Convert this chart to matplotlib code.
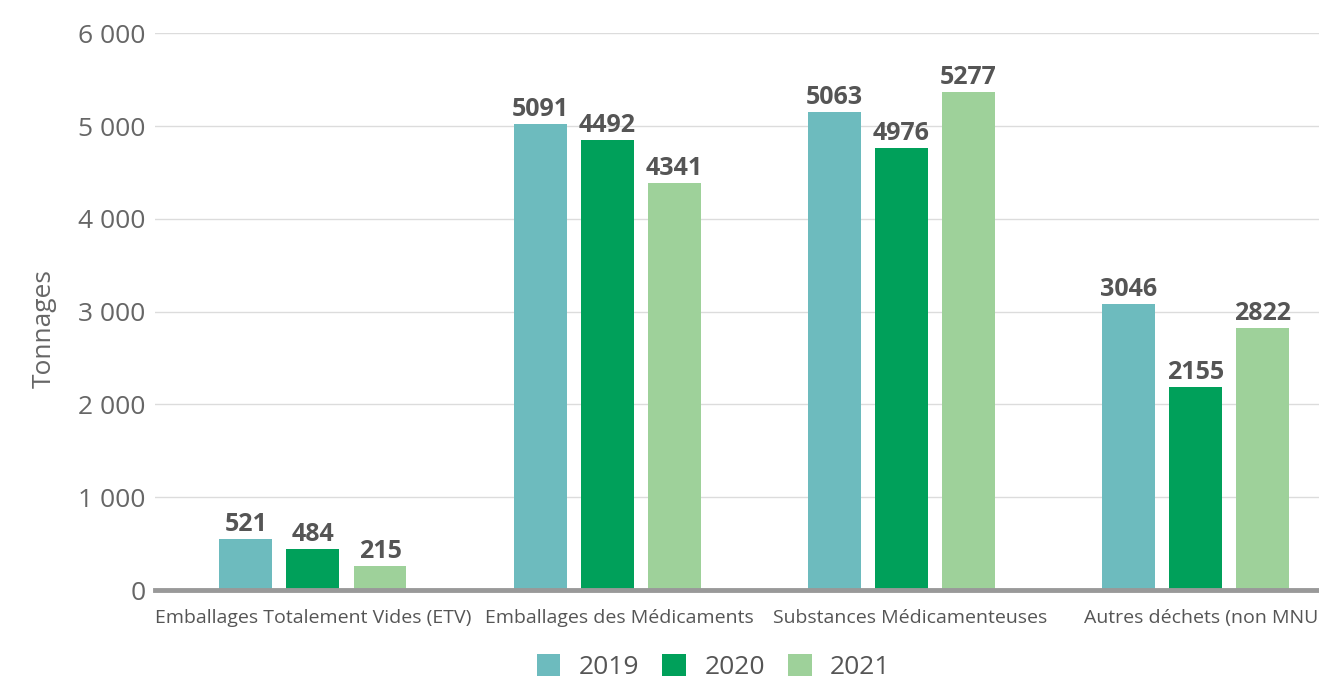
import numpy as np
import matplotlib.pyplot as plt
from matplotlib.patches import Patch

plt.rcParams["font.family"] = ["Open Sans", "DejaVu Sans"]

categories = [
    "Emballages Totalement Vides (ETV)",
    "Emballages des Médicaments",
    "Substances Médicamenteuses",
    "Autres déchets (non MNU)",
]
years = ["2019", "2020", "2021"]
# bar heights as drawn in the picture (they don't match the printed labels exactly)
heights_2019 = [548, 5020, 5150, 3086]
heights_2020 = [441, 4849, 4763, 2183]
heights_2021 = [258, 4387, 5366, 2828]
# printed value labels
labels_2019 = [521, 5091, 5063, 3046]
labels_2020 = [484, 4492, 4976, 2155]
labels_2021 = [215, 4341, 5277, 2822]
yticks = [0, 1000, 2000, 3000, 4000, 5000, 6000]
ytick_labels = ["0", "1 000", "2 000", "3 000", "4 000", "5 000", "6 000"]

colors = ["#6dbbbe", "#00a05a", "#9ed19a"]

fig = plt.figure(figsize=(13.19, 6.79), dpi=100)
ax = fig.add_axes([0.1175, 0.131, 0.8825, 0.82])

x = np.arange(len(categories))
width = 0.18
step = 0.228
series = [(heights_2019, labels_2019), (heights_2020, labels_2020), (heights_2021, labels_2021)]
for i, (h, lab) in enumerate(series):
    pos = x + (i - 1) * step
    bars = ax.bar(pos, h, width=width, color=colors[i], zorder=3)
    for b, v in zip(bars, lab):
        ax.annotate(
            f"{v}",
            xy=(b.get_x() + b.get_width() / 2, b.get_height()),
            xytext=(0, 1.5),
            textcoords="offset points",
            ha="center",
            va="bottom",
            fontsize=18,
            fontweight="bold",
            color="#555555",
        )

ax.set_xlim(-0.537, 3.42)
ax.set_ylim(0, 6000)
ax.set_yticks(yticks)
ax.set_yticklabels(ytick_labels, fontsize=19, color="#666666")
# labels sit a little right of the group centres in the original
# (the last one runs off the right edge there too)
ax.set_xticks(x + np.array([0, 0.04, 0.03, 0.03]))
ax.set_xticklabels(categories, fontsize=14, color="#555555")
ax.tick_params(axis="both", length=0)
ax.tick_params(axis="x", pad=14)
ax.tick_params(axis="y", pad=7)
ax.grid(axis="y", color="#dcdcdc", linewidth=1, zorder=0)
for s in ["top", "right", "left"]:
    ax.spines[s].set_visible(False)
ax.spines["bottom"].set_color("#999999")
ax.spines["bottom"].set_linewidth(3.5)
ax.spines["bottom"].set_zorder(4)

ax.set_ylabel("Tonnages", fontsize=19, color="#666666")
ax.yaxis.set_label_coords(-0.084, 0.469)

handles = [Patch(facecolor=c, label=y) for c, y in zip(colors, years)]
fig.legend(
    handles=handles,
    loc="center",
    bbox_to_anchor=(0.541, 0.017),
    ncol=3,
    frameon=False,
    fontsize=19,
    handlelength=0.9,
    handleheight=0.9,
    handletextpad=0.7,
    columnspacing=0.87,
    labelcolor="#555555",
)

fig.savefig("out.png", dpi=100)
